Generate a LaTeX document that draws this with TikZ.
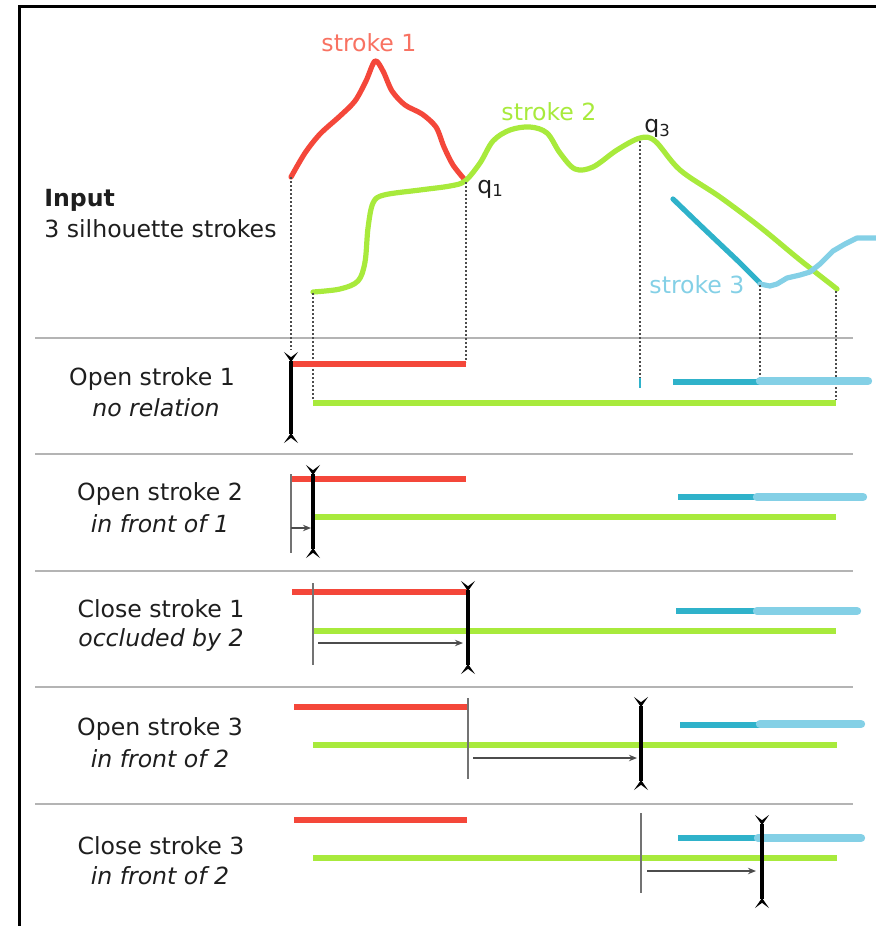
\documentclass[tikz,border=0pt]{standalone}
\usepackage{fontspec}
\setmainfont{DejaVu Sans}
\usetikzlibrary{arrows.meta}
\definecolor{sred}{HTML}{F4473A}
\definecolor{sredlbl}{HTML}{F87262}
\definecolor{sgreen}{HTML}{A8EA3C}
\definecolor{sdblue}{HTML}{2FB2CA}
\definecolor{slblue}{HTML}{84D0E6}
\definecolor{sepgray}{HTML}{B4B4B4}
\definecolor{txt}{HTML}{1E1E1E}
\begin{document}
\begin{tikzpicture}[x=0.5pt,y=-0.5pt,
  txtnode/.style={font=\fontsize{11.8}{14}\selectfont, text=txt, inner sep=0pt},
  curve/.style={line width=2.6pt, line cap=round, line join=round},
  redbar/.style={draw=sred, line width=3pt},
  greenbar/.style={draw=sgreen, line width=3pt},
  dbluebar/.style={draw=sdblue, line width=3.4pt},
  lbluebar/.style={draw=slblue, line width=4.2pt, line cap=round},
  sep/.style={draw=sepgray, line width=1pt},
  proj/.style={draw=black!70, line width=1.1pt, dash pattern=on 1.1pt off 0.9pt},
  guide/.style={draw=black!55, line width=1pt},
  movearrow/.style={draw=black!70, line width=0.7pt, -{Stealth[length=4pt,width=3.2pt]}},
  occl/.style={draw=black, line width=1.6pt,
    {Stealth[reversed,length=5pt,width=7pt,inset=2.6pt]}-{Stealth[reversed,length=5pt,width=7pt,inset=2.6pt]}}
]
\useasboundingbox (0,0) rectangle (876,926);
% frame
\draw[line width=1.5pt] (19,926) -- (19,6) -- (876,6);

% separators
\foreach \yy in {338,454,571,687,804} \draw[sep] (35,\yy) -- (853,\yy);

% ---------- input strokes ----------
\draw[curve, sred] plot[smooth, tension=0.5] coordinates {(291,177) (305,153) (320,134) (340,116) (355,101) (366,81) (375,61) (383,71) (392,91) (405,105) (422,114) (436,127) (444,147) (453,165) (465,180)};
\draw[curve, sgreen] plot[smooth, tension=0.55] coordinates {(313,292) (340,289) (358,281) (365,262) (368,228) (373,203) (384,195) (420,190) (450,186) (465,181) (480,163) (493,141) (510,130) (530,127) (547,133) (560,153) (575,169) (593,167) (617,150) (640,138) (655,141) (680,170) (720,197) (760,227) (800,260) (837,289)};
\draw[curve, sdblue] plot[smooth, tension=0.5] coordinates {(673,199) (700,225) (720,244) (740,263) (760,283)};
\draw[curve, slblue] (760,284) -- (770,286) -- (777,284) -- (787,278) -- (800,275) -- (810,272) -- (820,264) -- (833,251) -- (845,244) -- (857,238) -- (876,238);

\node[txtnode, text=sredlbl] (lblSone) at (369,43) {stroke 1};
\node[txtnode, text=sgreen] (lblStwo) at (549,112) {stroke 2};
\node[txtnode, text=slblue] (lblSthree) at (697,285) {stroke 3};
\node[txtnode, anchor=west] (lblQone) at (477,189) {q\textsubscript{1}};
\node[txtnode, anchor=west] (lblQthree) at (644,128) {q\textsubscript{3}};
\node[txtnode, anchor=west, font=\fontsize{11.8}{14}\selectfont\bfseries] (inTitle) at (44,200) {Input};
\node[txtnode, anchor=west] (inSub) at (44,229) {3 silhouette strokes};

% projection coordinates
\coordinate (pAtop) at (291,177);  \coordinate (pAbot) at (291,350);
\coordinate (pBtop) at (313,293);  \coordinate (pBbot) at (313,400);
\coordinate (pCtop) at (466,182);  \coordinate (pCbot) at (466,362);
\coordinate (pDtop) at (640,141);  \coordinate (pDbot) at (640,378);
\coordinate (pEtop) at (760,285);  \coordinate (pEbot) at (760,378);
\coordinate (pFtop) at (836,291);  \coordinate (pFbot) at (836,400);
\foreach \p in {A,B,C,D,E,F} \draw[proj] (p\p top) -- (p\p bot);

% ---------- row 1 ----------
\node[txtnode] (rOneA) at (152,379) {Open stroke 1};
\node[txtnode, font=\fontsize{11.8}{14}\selectfont\itshape] (rOneB) at (156,408) {no relation};
\draw[redbar] (291,364) -- (466,364);
\draw[greenbar] (313,403) -- (836,403);
\draw[dbluebar] (673,382) -- (760,382);
\draw[lbluebar] (760,381) -- (868,381);
\draw[draw=sdblue, line width=1pt] (640,378) -- (640,388);
\coordinate (oOneT) at (291,352); \coordinate (oOneB) at (291,443);
\draw[occl] (oOneT) -- (oOneB);

% ---------- row 2 ----------
\node[txtnode] (rTwoA) at (160,494) {Open stroke 2};
\node[txtnode, font=\fontsize{11.8}{14}\selectfont\itshape] (rTwoB) at (160,524) {in front of 1};
\draw[redbar] (291,479) -- (466,479);
\draw[greenbar] (313,517) -- (836,517);
\draw[dbluebar] (678,497) -- (757,497);
\draw[lbluebar] (757,497) -- (863,497);
\coordinate (gTwoT) at (291,474); \coordinate (gTwoB) at (291,553);
\draw[guide] (gTwoT) -- (gTwoB);
\coordinate (aTwoS) at (291,528); \coordinate (aTwoE) at (311,528);
\draw[movearrow] (aTwoS) -- (aTwoE);
\coordinate (oTwoT) at (313,465); \coordinate (oTwoB) at (313,558);
\draw[occl] (oTwoT) -- (oTwoB);

% ---------- row 3 ----------
\node[txtnode] (rThreeA) at (161,609) {Close stroke 1};
\node[txtnode, font=\fontsize{11.8}{14}\selectfont\itshape] (rThreeB) at (161,640) {occluded by 2};
\draw[redbar] (292,592) -- (467,592);
\draw[greenbar] (313,631) -- (836,631);
\draw[dbluebar] (676,611) -- (757,611);
\draw[lbluebar] (757,611) -- (857,611);
\coordinate (gThreeT) at (313,583); \coordinate (gThreeB) at (313,665);
\draw[guide] (gThreeT) -- (gThreeB);
\coordinate (aThreeS) at (318,643); \coordinate (aThreeE) at (463,643);
\draw[movearrow] (aThreeS) -- (aThreeE);
\coordinate (oThreeT) at (468,581); \coordinate (oThreeB) at (468,674);
\draw[occl] (oThreeT) -- (oThreeB);

% ---------- row 4 ----------
\node[txtnode] (rFourA) at (160,729) {Open stroke 3};
\node[txtnode, font=\fontsize{11.8}{14}\selectfont\itshape] (rFourB) at (160,759) {in front of 2};
\draw[redbar] (294,707) -- (468,707);
\draw[greenbar] (313,745) -- (837,745);
\draw[dbluebar] (680,725) -- (760,725);
\draw[lbluebar] (760,724) -- (861,724);
\coordinate (gFourT) at (468,698); \coordinate (gFourB) at (468,779);
\draw[guide] (gFourT) -- (gFourB);
\coordinate (aFourS) at (473,758); \coordinate (aFourE) at (637,758);
\draw[movearrow] (aFourS) -- (aFourE);
\coordinate (oFourT) at (641,697); \coordinate (oFourB) at (641,790);
\draw[occl] (oFourT) -- (oFourB);

% ---------- row 5 ----------
\node[txtnode] (rFiveA) at (161,846) {Close stroke 3};
\node[txtnode, font=\fontsize{11.8}{14}\selectfont\itshape] (rFiveB) at (160,876) {in front of 2};
\draw[redbar] (294,820) -- (467,820);
\draw[greenbar] (313,858) -- (837,858);
\draw[dbluebar] (678,838) -- (758,838);
\draw[lbluebar] (758,838) -- (861,838);
\coordinate (gFiveT) at (641,813); \coordinate (gFiveB) at (641,893);
\draw[guide] (gFiveT) -- (gFiveB);
\coordinate (aFiveS) at (647,871); \coordinate (aFiveE) at (756,871);
\draw[movearrow] (aFiveS) -- (aFiveE);
\coordinate (oFiveT) at (762,815); \coordinate (oFiveB) at (762,908);
\draw[occl] (oFiveT) -- (oFiveB);
\end{tikzpicture}
\end{document}
